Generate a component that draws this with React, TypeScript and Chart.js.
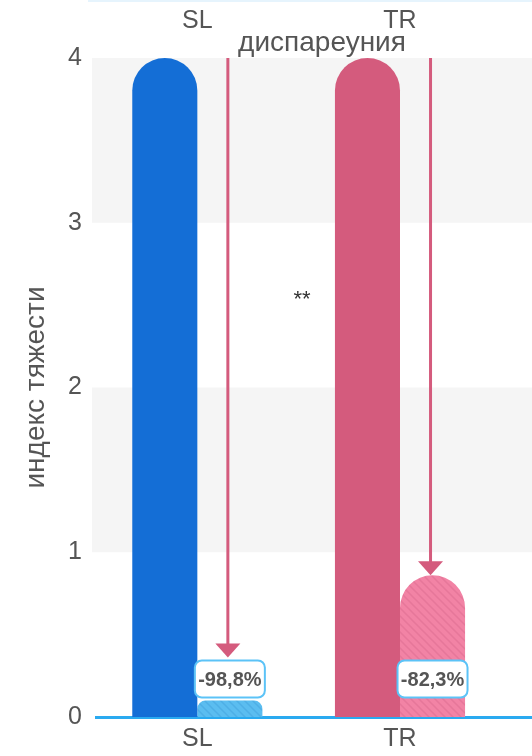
import { useEffect, useRef } from "react";
import { Chart, registerables } from "chart.js";

Chart.register(...registerables);

const categories = ["SL", "TR", ""];
const beforeValues = [4, 4, null];
const afterValues = [0.1, 0.86, null];
const changeLabels = ["-98,8%", "-82,3%"];
const yMin = 0;
const yMax = 4;
const yStep = 1;
const chartTitle = "диспареуния";
const yTitle = "индекс тяжести";
const significance = "**";
const significanceValue = 2.56;

const FONT = "'Liberation Sans', Arial, Helvetica, sans-serif";
const TEXT = "#555555";
const BLUE = "#146ed6";
const PINK = "#d45b7d";
const BLUE_H = "#5bbdf0";
const BLUE_S = "#4eafe6";
const PINK_H = "#f283a5";
const PINK_S = "#e6779a";
const ARROW = "#d45b7d";
const AXIS = "#2aaaf0";
const BOX_BORDER = "#5cc3f7";
const BAND = "#f5f5f5";

function makeHatch(ctx: CanvasRenderingContext2D, base: string, stripe: string) {
  const c = document.createElement("canvas");
  c.width = 8;
  c.height = 8;
  const g = c.getContext("2d")!;
  g.fillStyle = base;
  g.fillRect(0, 0, 8, 8);
  g.strokeStyle = stripe;
  g.lineWidth = 1.5;
  g.beginPath();
  g.moveTo(0, 0);
  g.lineTo(8, 8);
  g.moveTo(-4, 4);
  g.lineTo(4, 12);
  g.moveTo(4, -4);
  g.lineTo(12, 4);
  g.stroke();
  return ctx.createPattern(c, "repeat") as CanvasPattern;
}

const bandsPlugin = {
  id: "bands",
  beforeDraw(chart: any) {
    const { ctx, chartArea, scales } = chart;
    const y = scales.y;
    ctx.save();
    ctx.fillStyle = "#e6f4fd";
    ctx.fillRect(chartArea.left - 8, 0, chart.width, 2);
    ctx.fillStyle = BAND;
    const ticks = y.ticks;
    for (let k = 0; k < ticks.length - 1; k++) {
      if (k % 2 === 1) {
        const yTop = y.getPixelForValue(ticks[k + 1].value);
        const yBot = y.getPixelForValue(ticks[k].value);
        ctx.fillRect(chartArea.left - 4, yTop, chart.width, yBot - yTop);
      }
    }
    ctx.restore();
  },
};

function roundRect(ctx: CanvasRenderingContext2D, x: number, y: number, w: number, h: number, r: number) {
  ctx.beginPath();
  ctx.moveTo(x + r, y);
  ctx.lineTo(x + w - r, y);
  ctx.arcTo(x + w, y, x + w, y + r, r);
  ctx.lineTo(x + w, y + h - r);
  ctx.arcTo(x + w, y + h, x + w - r, y + h, r);
  ctx.lineTo(x + r, y + h);
  ctx.arcTo(x, y + h, x, y + h - r, r);
  ctx.lineTo(x, y + r);
  ctx.arcTo(x, y, x + r, y, r);
  ctx.closePath();
}

const overlayPlugin = {
  id: "overlay",
  afterDatasetsDraw(chart: any) {
    const { ctx, chartArea, scales } = chart;
    const y = scales.y;
    const metaBefore = chart.getDatasetMeta(0);
    const metaAfter = chart.getDatasetMeta(1);
    const base = y.getPixelForValue(0);
    ctx.save();
    changeLabels.forEach((label, i) => {
      const bar = metaAfter.data[i];
      const ref = metaBefore.data[i];
      if (!bar || !ref) return;
      const x = bar.x;
      const boxW = 70;
      const boxH = 37;
      const boxCy = base - 38;
      const boxTop = boxCy - boxH / 2;
      const tip = Math.min(bar.y, boxTop - 3);
      const head = 14;
      const ax = x - 2;
      ctx.strokeStyle = ARROW;
      ctx.lineWidth = 3;
      ctx.beginPath();
      ctx.moveTo(ax, ref.y);
      ctx.lineTo(ax, tip - head + 1);
      ctx.stroke();
      ctx.fillStyle = ARROW;
      ctx.beginPath();
      ctx.moveTo(ax - 12.5, tip - head);
      ctx.lineTo(ax + 12.5, tip - head);
      ctx.lineTo(ax, tip);
      ctx.closePath();
      ctx.fill();
      roundRect(ctx, x - boxW / 2, boxTop, boxW, boxH, 7);
      ctx.fillStyle = "#ffffff";
      ctx.fill();
      ctx.strokeStyle = BOX_BORDER;
      ctx.lineWidth = 2;
      ctx.stroke();
      ctx.fillStyle = TEXT;
      ctx.font = `bold 20px ${FONT}`;
      ctx.textAlign = "center";
      ctx.textBaseline = "middle";
      ctx.fillText(label, x, boxCy + 1);
    });
    ctx.fillStyle = TEXT;
    ctx.font = `28px ${FONT}`;
    ctx.textAlign = "center";
    ctx.textBaseline = "alphabetic";
    ctx.fillText(chartTitle, chartArea.left + 226, 51);
    ctx.fillStyle = "#333333";
    ctx.font = `22px ${FONT}`;
    ctx.textBaseline = "middle";
    ctx.fillText(significance, chartArea.left + 206, y.getPixelForValue(significanceValue) + 5);
    ctx.restore();
  },
};

export default function App() {
  const ref = useRef<HTMLCanvasElement | null>(null);
  useEffect(() => {
    const canvas = ref.current!;
    const ctx = canvas.getContext("2d")!;
    const blueHatch = makeHatch(ctx, BLUE_H, BLUE_S);
    const pinkHatch = makeHatch(ctx, PINK_H, PINK_S);
    Chart.defaults.font.family = FONT;
    const chart = new Chart(canvas, {
      type: "bar",
      data: {
        labels: categories,
        datasets: [
          {
            data: beforeValues as any,
            backgroundColor: [BLUE, PINK, BLUE],
            borderRadius: { topLeft: 40, topRight: 40, bottomLeft: 0, bottomRight: 0 },
            borderSkipped: "bottom",
            categoryPercentage: 0.642,
            barPercentage: 1,
            xAxisID: "x",
          },
          {
            data: afterValues as any,
            backgroundColor: [blueHatch, pinkHatch, blueHatch] as any,
            borderRadius: { topLeft: 40, topRight: 40, bottomLeft: 0, bottomRight: 0 },
            borderSkipped: "bottom",
            categoryPercentage: 0.642,
            barPercentage: 1,
            xAxisID: "x",
          },
        ],
      },
      options: {
        responsive: false,
        devicePixelRatio: 1,
        animation: false,
        layout: { padding: 0 },
        plugins: {
          legend: { display: false },
          tooltip: { enabled: false },
          title: { display: false },
        },
        scales: {
          x: {
            type: "category",
            position: "bottom",
            offset: true,
            grid: { display: false, drawTicks: false },
            border: { display: true, color: AXIS, width: 3 },
            ticks: { font: { size: 25 }, color: TEXT, padding: 7 },
            afterFit: (s: any) => {
              s.height = 39;
            },
          },
          x2: {
            type: "category",
            position: "top",
            offset: true,
            grid: { display: false, drawTicks: false },
            border: { display: false },
            ticks: { font: { size: 25 }, color: TEXT, padding: 22 },
            afterFit: (s: any) => {
              s.height = 58;
            },
          },
          y: {
            min: yMin,
            max: yMax,
            ticks: { stepSize: yStep, font: { size: 25 }, color: TEXT, padding: 14 },
            grid: { display: false, drawTicks: false },
            border: { display: false },
            title: {
              display: true,
              text: yTitle,
              font: { size: 28 },
              color: TEXT,
              padding: { top: 19, bottom: 0 },
            },
            afterFit: (s: any) => {
              s.width = 96;
            },
          },
        } as any,
      },
      plugins: [bandsPlugin, overlayPlugin],
    });
    return () => chart.destroy();
  }, []);
  return (
    <div
      style={{
        position: "fixed",
        left: 0,
        top: 0,
        width: 532,
        height: 756,
        overflow: "hidden",
        background: "#ffffff",
      }}
    >
      <canvas ref={ref} width={704} height={756} style={{ width: 704, height: 756, display: "block" }} />
    </div>
  );
}
